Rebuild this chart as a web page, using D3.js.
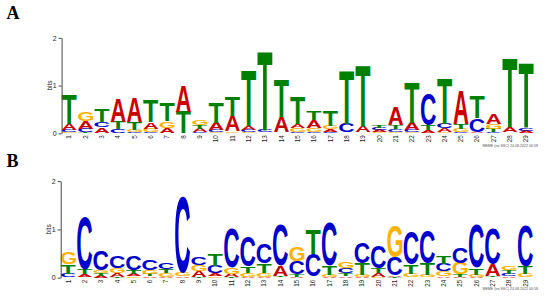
<!DOCTYPE html>
<html>
<head>
<meta charset="utf-8">
<script src="https://cdn.jsdelivr.net/npm/d3@7.9.0/dist/d3.min.js"></script>
<style>
  body { margin: 0; background: #fff; }
  svg { display: block; }
</style>
</head>
<body>
<svg id="chart" width="550" height="298"></svg>
<script>
// positions and letters
const positions = d3.range(1, 30);
const bases = ['A', 'C', 'G', 'T'];
const yTicks = [0, 1, 2];
const footerText = 'MEME (no SSC) 24.08.2022 00:58';

// panel A: letter heights in bits per position
const aA = [0.14, 0.16, 0.11, 0.49, 0.52, 0.14, 0.10, 0.53, 0.07, 0.15, 0.33, 0.09, 0.01, 0.33, 0.09, 0.16, 0.05, 0.01, 0.13, 0.04, 0.38, 0.15, 0.05, 0.085, 0.71, 0.02, 0.22, 0.11, 0.045];
const aC = [0.04, 0.07, 0.12, 0.08, 0.02, 0.02, 0.01, 0.00, 0.02, 0.05, 0.01, 0.04, 0.05, 0.01, 0.03, 0.03, 0.03, 0.18, 0.01, 0.05, 0.06, 0.04, 0.66, 0.095, 0.03, 0.28, 0.02, 0.01, 0.05];
const aG = [0.02, 0.18, 0.01, 0.01, 0.05, 0.08, 0.14, 0.00, 0.12, 0.02, 0.03, 0.02, 0.01, 0.01, 0.08, 0.08, 0.07, 0.01, 0.01, 0.02, 0.03, 0.02, 0.01, 0.02, 0.07, 0.01, 0.10, 0.01, 0.01];
const aT = [0.63, 0.02, 0.26, 0.15, 0.17, 0.47, 0.38, 0.45, 0.08, 0.42, 0.40, 1.16, 1.66, 0.80, 0.56, 0.18, 0.33, 1.11, 1.29, 0.06, 0.08, 0.85, 0.11, 0.94, 0.10, 0.47, 0.07, 1.43, 1.35];

// panel B
const bA = [0.01, 0.06, 0.04, 0.07, 0.05, 0.03, 0.02, 0.03, 0.12, 0.06, 0.07, 0.02, 0.02, 0.22, 0.02, 0.01, 0.02, 0.03, 0.02, 0.07, 0.03, 0.01, 0.01, 0.03, 0.02, 0.02, 0.23, 0.03, 0.01];
const bC = [0.07, 1.09, 0.40, 0.23, 0.29, 0.21, 0.14, 1.57, 0.16, 0.15, 0.81, 0.63, 0.40, 0.84, 0.28, 0.47, 0.90, 0.10, 0.43, 0.46, 0.37, 0.67, 0.67, 0.16, 0.33, 0.90, 0.74, 0.04, 0.84];
const bG = [0.24, 0.01, 0.06, 0.11, 0.03, 0.08, 0.07, 0.07, 0.13, 0.03, 0.14, 0.07, 0.08, 0.01, 0.31, 0.01, 0.04, 0.12, 0.04, 0.02, 0.65, 0.07, 0.05, 0.10, 0.24, 0.04, 0.01, 0.09, 0.07];
const bT = [0.19, 0.10, 0.05, 0.02, 0.07, 0.04, 0.09, 0.00, 0.02, 0.23, 0.01, 0.14, 0.19, 0.03, 0.05, 0.52, 0.19, 0.06, 0.23, 0.10, 0.02, 0.19, 0.24, 0.17, 0.05, 0.14, 0.03, 0.08, 0.15];

const baseColors = { A: '#cc0000', C: '#0000cc', G: '#ffb300', T: '#008000' };

const panels = [
  { label: 'A', heights: { A: aA, C: aC, G: aG, T: aT },
    xRange: [61.1, 534.4], yRange: [133.3, 37.8], labelY: 19, footY: 146.5 },
  { label: 'B', heights: { A: bA, C: bC, G: bG, T: bT },
    xRange: [60.2, 533.5], yRange: [277.7, 181.1], labelY: 167, footY: 289.5 }
];

const svg = d3.select('#chart');

// ink box of each glyph, so a letter can be stretched to fill its cell
const ctx = document.createElement('canvas').getContext('2d');
ctx.font = 'bold 100px "Liberation Sans"';
const ink = {};
bases.forEach(b => {
  const m = ctx.measureText(b);
  ink[b] = { l: m.actualBoundingBoxLeft, r: m.actualBoundingBoxRight,
             a: m.actualBoundingBoxAscent, d: m.actualBoundingBoxDescent };
});

function drawLetter(g, b, x, yTop, w, h) {
  if (h <= 0) return;
  const m = ink[b];
  const sx = w / (m.l + m.r);
  const sy = h / (m.a + m.d);
  g.append('text')
    .attr('transform', `translate(${x + m.l * sx},${yTop + m.a * sy}) scale(${sx},${sy})`)
    .attr('font-family', 'Liberation Sans, Arial, sans-serif')
    .attr('font-weight', 'bold')
    .attr('font-size', 100)
    .attr('fill', baseColors[b])
    .text(b);
}

panels.forEach(p => {
  const g = svg.append('g');
  const x = d3.scaleBand().domain(positions).range(p.xRange).paddingInner(0.08).paddingOuter(0.04);
  const y = d3.scaleLinear().domain([0, 2]).range(p.yRange);

  // panel letter
  g.append('text')
    .attr('x', 6.5)
    .attr('y', p.labelY)
    .attr('font-family', 'Liberation Serif, Times New Roman, serif')
    .attr('font-weight', 'bold')
    .attr('font-size', 18)
    .text(p.label);

  // letter stacks, smallest at bottom
  positions.forEach((pos, i) => {
    const stack = bases.map(b => ({ b, v: p.heights[b][i] })).sort((m, n) => m.v - n.v);
    let acc = 0;
    stack.forEach(s => {
      const top = y(acc + s.v);
      drawLetter(g, s.b, x(pos), top, x.bandwidth(), y(acc) - top);
      acc += s.v;
    });
  });

  // y axis
  const yAxis = d3.axisLeft(y).tickValues(yTicks).tickFormat(d3.format('d'))
    .tickSize(3).tickPadding(2).tickSizeOuter(0);
  const ax = g.append('g')
    .attr('transform', `translate(${p.xRange[0] + 0.5},0)`)
    .call(yAxis);
  ax.select('.domain').attr('stroke', '#444');
  ax.selectAll('.tick line').attr('stroke', '#444');
  ax.selectAll('.tick text')
    .attr('font-family', 'Liberation Sans, Arial, sans-serif')
    .attr('font-size', 7)
    .attr('fill', '#222');

  g.append('text')
    .attr('transform', `translate(${p.xRange[0] - 9},${y(1)}) rotate(-90)`)
    .attr('text-anchor', 'middle')
    .attr('font-family', 'Liberation Sans, Arial, sans-serif')
    .attr('font-size', 6.5)
    .attr('fill', '#222')
    .text('bits');

  // position labels
  g.selectAll('.pos')
    .data(positions)
    .join('text')
    .attr('transform', d => `translate(${x(d) + x.bandwidth() / 2 + 2.2},${p.yRange[0] + 2}) rotate(-90)`)
    .attr('text-anchor', 'end')
    .attr('font-family', 'Liberation Sans, Arial, sans-serif')
    .attr('font-size', 6.3)
    .attr('fill', '#222')
    .text(d => d);

  g.append('text')
    .attr('x', 538)
    .attr('y', p.footY)
    .attr('text-anchor', 'end')
    .attr('font-family', 'Liberation Sans, Arial, sans-serif')
    .attr('font-size', 3.6)
    .attr('fill', '#555')
    .text(footerText);
});
</script>
</body>
</html>
